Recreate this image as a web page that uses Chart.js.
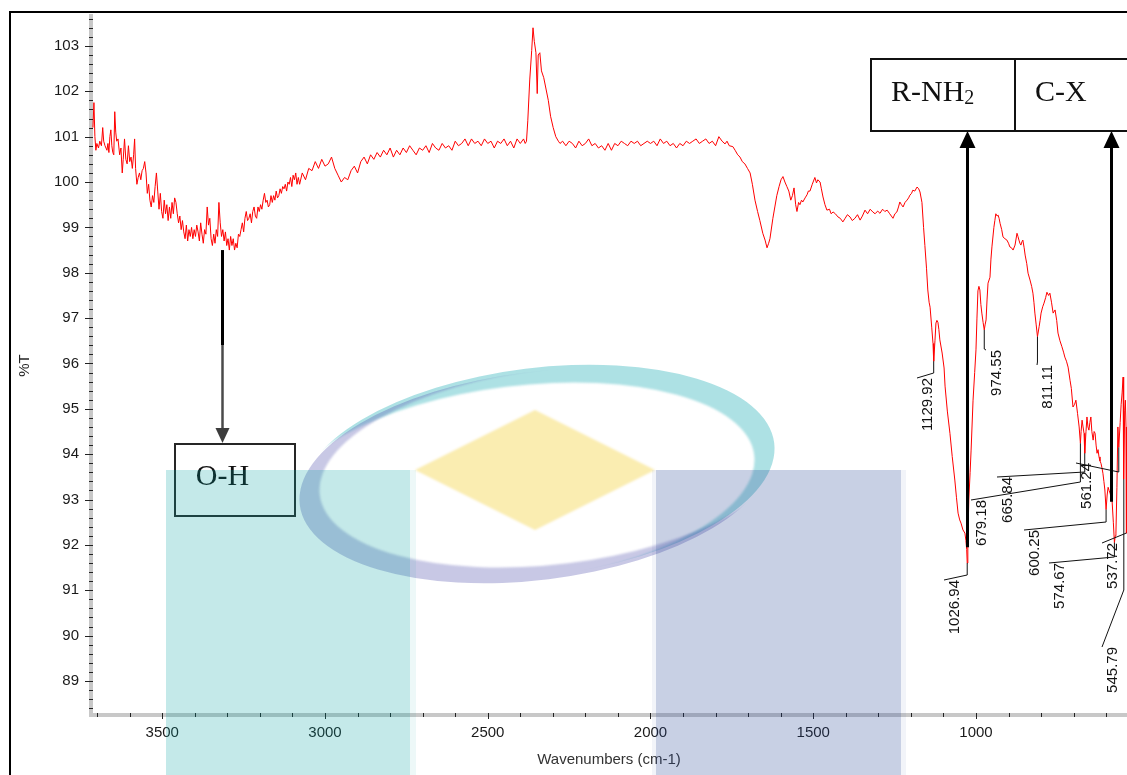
<!DOCTYPE html>
<html>
<head>
<meta charset="utf-8">
<title>FTIR spectrum</title>
<script src="https://cdn.jsdelivr.net/npm/chart.js@4.4.1/dist/chart.umd.min.js"></script>
<style>
  html, body { margin: 0; padding: 0; background: #fff; overflow: hidden; }
  #wrap { position: relative; width: 1127px; height: 775px; }
</style>
</head>
<body>
<div id="wrap"><canvas id="ftirChart" width="1127" height="775"></canvas></div>
<script>
// spectrum, wavenumber (cm-1) -> %T
const wavenumbers = [
  3713, 3710, 3707, 3704, 3701, 3696, 3692, 3687, 3683, 3680,
  3676, 3670, 3667, 3664, 3661, 3658, 3655, 3652, 3649, 3646,
  3643, 3640, 3636, 3631, 3627, 3623, 3620, 3616, 3612, 3608,
  3604, 3600, 3596, 3592, 3588, 3585, 3582, 3578, 3574, 3570,
  3566, 3562, 3558, 3554, 3550, 3546, 3542, 3538, 3534, 3530,
  3526, 3522, 3518, 3514, 3510, 3506, 3502, 3498, 3494, 3490,
  3486, 3482, 3478, 3474, 3470, 3466, 3462, 3458, 3454, 3450,
  3446, 3442, 3438, 3434, 3430, 3426, 3422, 3418, 3414, 3410,
  3406, 3402, 3398, 3394, 3390, 3386, 3382, 3378, 3374, 3370,
  3366, 3362, 3358, 3354, 3350, 3346, 3342, 3338, 3334, 3330,
  3326, 3322, 3318, 3314, 3310, 3306, 3302, 3298, 3294, 3290,
  3286, 3282, 3278, 3274, 3270, 3266, 3262, 3258, 3254, 3250,
  3246, 3242, 3238, 3234, 3230, 3226, 3222, 3218, 3214, 3210,
  3206, 3202, 3198, 3194, 3190, 3186, 3182, 3178, 3174, 3170,
  3166, 3162, 3158, 3154, 3150, 3146, 3142, 3138, 3134, 3130,
  3126, 3122, 3118, 3114, 3110, 3106, 3102, 3098, 3094, 3090,
  3086, 3082, 3078,
  3070, 3060, 3050, 3040, 3030, 3020, 3010, 3000, 2990, 2980,
  2970, 2960, 2950, 2940, 2930, 2920, 2910, 2900, 2890, 2880,
  2870, 2860, 2850, 2840, 2830, 2820, 2810, 2800, 2790, 2780,
  2770, 2760, 2750, 2740, 2730, 2720, 2710, 2700, 2690, 2680,
  2670, 2660, 2650, 2640, 2630, 2620, 2610, 2600, 2590, 2580,
  2570, 2560, 2550, 2540, 2530, 2520, 2510, 2500, 2490, 2480,
  2470, 2460, 2450, 2440, 2430, 2420, 2410, 2400, 2390,
  2385, 2381, 2377, 2371, 2365, 2361, 2357, 2352, 2348, 2345,
  2340, 2335, 2328, 2321, 2314, 2307, 2299, 2291, 2283, 2278,
  2270, 2260, 2250, 2240, 2230, 2220, 2210, 2200, 2190, 2180,
  2170, 2160, 2150, 2140, 2130, 2120, 2110, 2100, 2090, 2080,
  2070, 2060, 2050, 2040, 2030, 2020, 2010, 2000, 1990, 1980,
  1970, 1960, 1950, 1940, 1930, 1920, 1910, 1900, 1890, 1880,
  1870, 1860, 1850, 1840, 1830, 1820, 1810, 1800, 1790, 1780,
  1771, 1765, 1758, 1747, 1740, 1732, 1725, 1718, 1710, 1702,
  1694, 1687, 1679, 1671, 1664, 1655, 1648, 1642, 1637, 1633,
  1624, 1618, 1612, 1605, 1599, 1593, 1587, 1581, 1575, 1569,
  1564, 1559, 1554, 1550, 1545, 1541, 1536, 1532, 1525, 1519,
  1515, 1510, 1503, 1495, 1490, 1486, 1479, 1475, 1470, 1464,
  1458, 1450, 1445, 1439, 1432, 1424, 1417, 1409, 1402, 1395,
  1387, 1380, 1372, 1364, 1356, 1349, 1341, 1333, 1325, 1317,
  1310, 1302, 1295, 1287, 1280, 1273, 1265, 1260, 1255, 1249,
  1243, 1238, 1234, 1229, 1224, 1218, 1212, 1207, 1203, 1198,
  1194, 1188, 1181, 1176, 1172, 1166, 1161, 1157, 1152, 1148,
  1144, 1141, 1136, 1132, 1129.92, 1126, 1123, 1120, 1117, 1114,
  1111, 1104, 1098, 1095, 1088, 1080, 1073, 1065, 1060, 1055,
  1050, 1046, 1040, 1034, 1031, 1028.5, 1026.94, 1025, 1022, 1018,
  1015, 1009, 1004, 1000, 997, 994, 991, 988, 985, 982,
  978, 974.55, 972, 969, 966, 963, 957, 954, 951, 945,
  942, 939, 935, 932, 929, 926, 921, 917, 911, 905,
  900, 896, 891, 886, 880, 874, 871, 868, 865, 862,
  859, 856, 852, 849, 844, 840, 834, 829, 825, 822,
  819, 815, 811.11, 806, 803, 800, 795, 791, 786, 782,
  777, 773, 768, 763, 757, 752, 748, 742, 736, 731,
  727, 722, 717, 711, 707, 702, 697, 693, 688, 683,
  679.18, 677, 674, 671, 668, 665.84, 662, 659, 656, 653,
  650, 647, 644, 640, 637, 634, 631, 628, 625, 622,
  619, 616, 613, 610, 607, 604, 600.25, 597, 594, 591,
  588, 585, 582, 578, 574.67, 572, 570, 567, 564, 561.24,
  557, 554, 551, 548, 546.8, 545.79, 543, 541, 539, 537.72,
  536
];

const transmittance = [
  101.2, 101.75, 101.0, 100.7, 100.85, 100.75, 100.9, 100.8, 101.2, 100.9,
  100.8, 100.7, 100.85, 100.65, 101.0, 101.15, 100.8, 100.65, 100.6, 101.55,
  101.1, 100.9, 100.95, 100.6, 100.75, 100.2, 100.5, 100.95, 100.5, 100.4,
  100.8, 100.45, 100.55, 100.3, 100.6, 100.95, 100.3, 99.95, 100.1, 100.2,
  100.05, 100.25, 100.3, 100.45, 100.2, 99.75, 99.95, 99.6, 99.45, 99.7,
  99.55, 99.9, 100.2, 99.8, 99.4, 99.75, 99.35, 99.2, 99.6, 99.3,
  99.5, 99.15, 99.45, 99.2, 99.55, 99.3, 99.65, 99.55, 99.3, 99.1,
  99.25, 98.95, 99.15, 98.9, 98.75, 99.05, 98.7, 98.95, 98.8, 99.0,
  98.75, 98.95, 98.8, 99.05, 98.9, 98.7, 99.1, 98.85, 98.65, 98.95,
  98.85, 99.45, 99.05, 99.2, 98.75, 98.6, 98.85, 98.65, 98.95, 98.8,
  99.55, 99.1, 98.8, 98.95, 98.7, 98.9, 98.6, 98.75, 98.5, 98.8,
  98.6, 98.75, 98.5, 98.65, 98.55, 98.85, 98.8, 98.95, 99.1, 98.9,
  99.2, 99.35, 99.15, 99.2, 99.3, 99.1, 99.35, 99.45, 99.25, 99.2,
  99.45, 99.35, 99.5, 99.4, 99.6, 99.75, 99.55, 99.6, 99.45, 99.5,
  99.7, 99.55, 99.7, 99.6, 99.8, 99.65, 99.7, 99.85, 99.75, 99.9,
  99.85, 99.95, 99.8, 100.0, 99.95, 100.1, 99.9, 100.15, 100.05, 100.2,
  99.95, 100.1, 99.95,
  100.2, 100.05, 100.3, 100.25, 100.45, 100.3, 100.5, 100.35, 100.4, 100.55,
  100.3, 100.15, 100.0, 100.1, 100.05, 100.25, 100.35, 100.2, 100.45, 100.55,
  100.4, 100.6, 100.5, 100.65, 100.55, 100.7, 100.6, 100.75, 100.55, 100.7,
  100.6, 100.75, 100.65, 100.8, 100.7, 100.6, 100.75, 100.7, 100.8, 100.65,
  100.85, 100.75, 100.7, 100.85, 100.75, 100.8, 100.7, 100.9, 100.8, 100.85,
  100.95, 100.8, 100.95, 100.85, 100.9, 100.8, 100.95, 100.85, 100.9, 100.75,
  100.9, 100.85, 100.95, 100.8, 100.9, 100.75, 100.95, 100.85, 100.95,
  100.85, 100.9, 101.35, 102.25, 102.9, 103.4, 103.1, 102.85, 101.95, 102.8,
  102.85, 102.45, 102.3, 102.05, 101.8, 101.45, 101.2, 101.0, 100.9, 100.85,
  100.9, 100.8, 100.9, 100.85, 100.75, 100.9, 100.8, 100.85, 100.95, 100.8,
  100.85, 100.75, 100.8, 100.7, 100.85, 100.7, 100.85, 100.8, 100.9, 100.85,
  100.8, 100.9, 100.85, 100.9, 100.8, 100.85, 100.9, 100.85, 100.9, 100.8,
  100.95, 100.85, 100.9, 100.8, 100.85, 100.75, 100.85, 100.8, 100.9, 100.85,
  100.9, 100.95, 100.85, 100.9, 100.95, 100.85, 100.9, 100.8, 101.0, 100.9,
  100.84, 100.9, 100.8, 100.78, 100.7, 100.6, 100.55, 100.45, 100.4, 100.3,
  100.2, 99.95, 99.6, 99.35, 99.15, 98.87, 98.72, 98.55, 98.65, 98.75,
  99.2, 99.45, 99.7, 99.9, 100.05, 100.12, 100.0, 99.9, 99.8, 99.6,
  99.7, 99.87, 99.5, 99.35, 99.55, 99.5, 99.6, 99.56, 99.65, 99.72,
  99.8, 99.8, 99.95, 100.1, 99.98, 100.05, 100.0, 99.85, 99.67, 99.5,
  99.38, 99.4, 99.3, 99.34, 99.3, 99.23, 99.2, 99.12, 99.2, 99.28,
  99.23, 99.15, 99.2, 99.28, 99.16, 99.25, 99.38, 99.3, 99.4, 99.34,
  99.3, 99.36, 99.31, 99.4, 99.35, 99.38, 99.3, 99.25, 99.2, 99.3,
  99.34, 99.45, 99.56, 99.5, 99.45, 99.55, 99.6, 99.65, 99.71, 99.75,
  99.82, 99.8, 99.89, 99.85, 99.78, 99.55, 99.0, 98.6, 98.1, 97.62,
  97.35, 97.24, 96.8, 96.44, 96.05, 96.5, 96.89, 96.95, 96.91, 96.75,
  96.52, 96.23, 95.9, 95.5, 94.95, 94.46, 93.95, 93.43, 93.05, 92.7,
  92.55, 92.48, 92.33, 92.26, 92.1, 91.9, 91.6, 92.1, 92.99, 93.6,
  94.09, 95.19, 95.8, 96.3, 97.0, 97.6, 97.7, 97.62, 97.3, 97.11,
  96.9, 96.74, 96.85, 96.96, 97.4, 97.77, 97.9, 98.3, 98.57, 99.0,
  99.15, 99.3, 99.25, 99.27, 99.2, 99.09, 98.95, 98.79, 98.75, 98.72,
  98.65, 98.57, 98.55, 98.5, 98.61, 98.87, 98.8, 98.72, 98.65, 98.61,
  98.68, 98.72, 98.55, 98.39, 98.2, 97.99, 97.84, 97.7, 97.55, 97.35,
  97.11, 96.85, 96.59, 96.81, 96.95, 97.11, 97.25, 97.33, 97.45, 97.57,
  97.5, 97.55, 97.35, 97.11, 97.18, 96.95, 96.67, 96.5, 96.37, 96.25,
  96.14, 96.05, 95.92, 95.63, 95.45, 95.04, 95.1, 95.19, 94.9, 94.6,
  94.24, 94.5, 94.75, 94.6, 94.46, 94.02, 94.5, 94.82, 94.6, 94.53,
  94.7, 94.82, 94.5, 94.31, 94.5, 94.46, 94.2, 94.02, 94.1, 93.94,
  93.85, 93.8, 93.7, 93.58, 93.4, 93.21, 92.78, 93.1, 93.27, 93.2,
  93.14, 93.05, 92.99, 92.5, 92.05, 92.2, 92.26, 93.27, 94.6, 94.15,
  94.7, 95.1, 95.35, 95.7, 94.5, 93.45, 94.97, 95.19, 94.6, 92.26,
  93.0
];

// axis tick labels
const xTickValues = [1000, 1500, 2000, 2500, 3000, 3500];
const yTickValues = [89, 90, 91, 92, 93, 94, 95, 96, 97, 98, 99, 100, 101, 102, 103];

// labelled peaks (cm-1)
const peakWavenumbers = [1129.92, 1026.94, 974.55, 811.11, 679.18, 665.84, 561.24, 600.25, 574.67, 537.72, 545.79];

// functional group bands and where their arrows point (cm-1, %T at arrow start)
const bandNames = ['O-H', 'R-NH', 'C-X'];
const bandWavenumbers = [3315, 1027, 585];
const bandArrowFrom = [98.5, 91.95, 92.95];

// placement of the rotated peak labels: knee of the leader (px y), top-centre of the text (px)
const peakLabelLayout = [
  { knee: 373, text: [928, 378] },
  { knee: 575, text: [955, 580] },
  { knee: 349, text: [997, 350] },
  { knee: 362, text: [1048, 365] },
  { knee: 482, text: [982, 500] },
  { knee: 472, text: [1008, 477] },
  { knee: 472, text: [1087, 463] },
  { knee: 522, text: [1035, 530] },
  { knee: 557, text: [1060, 563] },
  { knee: 533, text: [1113, 543] },
  { knee: 590, text: [1113, 647] }
];

const SANS = '"Liberation Sans", Arial, Helvetica, sans-serif';
const SERIF = '"Liberation Serif", "Times New Roman", serif';

const points = [];
for (let i = 0; i < Math.min(wavenumbers.length, transmittance.length); i++) {
  points.push({ x: wavenumbers[i], y: transmittance[i] });
}

function valueAt(w) {
  return transmittance[wavenumbers.indexOf(w)];
}

// black frame around the figure
const framePlugin = {
  id: 'frame',
  beforeDraw(chart) {
    const ctx = chart.ctx;
    ctx.save();
    ctx.fillStyle = '#fff';
    ctx.fillRect(0, 0, chart.width, chart.height);
    ctx.strokeStyle = '#000';
    ctx.lineWidth = 2;
    ctx.beginPath();
    ctx.moveTo(10, chart.height);
    ctx.lineTo(10, 12);
    ctx.lineTo(chart.width, 12);
    ctx.stroke();
    ctx.restore();
  }
};

// major and minor tick marks across the grey axis bands
const tickPlugin = {
  id: 'tickMarks',
  afterDatasetsDraw(chart) {
    const { ctx, chartArea, scales: { x, y } } = chart;
    ctx.save();
    ctx.strokeStyle = '#222';
    ctx.lineWidth = 1;
    ctx.beginPath();
    for (let k = Math.ceil(y.min * 5); k <= Math.floor(y.max * 5); k++) {
      const py = Math.round(y.getPixelForValue(k / 5)) + 0.5;
      const major = k % 5 === 0;
      ctx.moveTo(chartArea.left - (major ? 6 : 2), py);
      ctx.lineTo(chartArea.left + 2, py);
    }
    for (let k = Math.ceil(x.min / 100); k <= Math.floor(x.max / 100); k++) {
      const px = Math.round(x.getPixelForValue(k * 100)) + 0.5;
      const major = k % 5 === 0;
      ctx.moveTo(px, chartArea.bottom - 2);
      ctx.lineTo(px, chartArea.bottom + (major ? 4 : 2));
    }
    ctx.stroke();
    ctx.restore();
  }
};

function arrowHead(ctx, x, tipY, dir, half, len) {
  ctx.beginPath();
  ctx.moveTo(x, tipY);
  ctx.lineTo(x - half, tipY - dir * len);
  ctx.lineTo(x + half, tipY - dir * len);
  ctx.closePath();
  ctx.fill();
}

// peak labels, band boxes and arrows
const annotationPlugin = {
  id: 'annotations',
  afterDatasetsDraw(chart) {
    const { ctx, scales: { x, y } } = chart;
    ctx.save();

    // peak leaders and rotated labels
    ctx.strokeStyle = '#111';
    ctx.fillStyle = '#111';
    ctx.lineWidth = 1;
    ctx.font = '15px ' + SANS;
    peakWavenumbers.forEach((w, i) => {
      const lay = peakLabelLayout[i];
      const px = x.getPixelForValue(w);
      const py = y.getPixelForValue(valueAt(w));
      ctx.beginPath();
      ctx.moveTo(px, py);
      ctx.lineTo(px, lay.knee);
      ctx.lineTo(lay.text[0] - 11, lay.text[1]);
      ctx.stroke();
      ctx.save();
      ctx.translate(lay.text[0], lay.text[1]);
      ctx.rotate(-Math.PI / 2);
      ctx.textAlign = 'right';
      ctx.textBaseline = 'middle';
      ctx.fillText(w.toFixed(2), 0, 0);
      ctx.restore();
    });

    // O-H: arrow down to its box
    const ohX = Math.round(x.getPixelForValue(bandWavenumbers[0])) + 0.5;
    const ohTop = y.getPixelForValue(bandArrowFrom[0]);
    ctx.strokeStyle = '#000';
    ctx.lineWidth = 3;
    ctx.beginPath();
    ctx.moveTo(ohX, ohTop);
    ctx.lineTo(ohX, 345);
    ctx.stroke();
    ctx.strokeStyle = '#4a4a4a';
    ctx.lineWidth = 2.5;
    ctx.beginPath();
    ctx.moveTo(ohX, 345);
    ctx.lineTo(ohX, 430);
    ctx.stroke();
    ctx.fillStyle = '#3c3c3c';
    arrowHead(ctx, ohX, 443, 1, 7, 15);

    ctx.strokeStyle = '#262626';
    ctx.lineWidth = 2;
    ctx.strokeRect(175, 444, 120, 72);
    ctx.fillStyle = '#111';
    ctx.font = '30px ' + SERIF;
    ctx.textAlign = 'center';
    ctx.textBaseline = 'alphabetic';
    ctx.fillText(bandNames[0], ohX, 485);

    // R-NH2 and C-X: arrows up into the shared box
    ctx.strokeStyle = '#000';
    ctx.fillStyle = '#000';
    ctx.lineWidth = 3;
    [1, 2].forEach(i => {
      const bx = Math.round(x.getPixelForValue(bandWavenumbers[i])) + 0.5;
      const by = y.getPixelForValue(bandArrowFrom[i]);
      ctx.beginPath();
      ctx.moveTo(bx, by);
      ctx.lineTo(bx, 146);
      ctx.stroke();
      arrowHead(ctx, bx, 131, -1, 8, 17);
    });

    ctx.lineWidth = 2;
    ctx.strokeStyle = '#111';
    ctx.strokeRect(871, 59, 300, 72);
    ctx.beginPath();
    ctx.moveTo(1015, 59);
    ctx.lineTo(1015, 131);
    ctx.stroke();

    ctx.fillStyle = '#111';
    ctx.textAlign = 'left';
    ctx.font = '30px ' + SERIF;
    ctx.fillText(bandNames[1], 891, 101);
    const nhWidth = ctx.measureText(bandNames[1]).width;
    ctx.font = '20px ' + SERIF;
    ctx.fillText('2', 891 + nhWidth, 104);
    ctx.font = '30px ' + SERIF;
    ctx.fillText(bandNames[2], 1035, 101);

    ctx.restore();
  }
};

function crescent(ctx, outer, inner, color) {
  const rot = -7 * Math.PI / 180;
  ctx.save();
  ctx.beginPath();
  ctx.ellipse(outer[0], outer[1], outer[2], outer[3], rot, 0, Math.PI * 2);
  ctx.clip();
  ctx.beginPath();
  ctx.rect(0, 0, ctx.canvas.width, ctx.canvas.height);
  ctx.ellipse(inner[0], inner[1], inner[2], inner[3], rot, 0, Math.PI * 2);
  ctx.fillStyle = color;
  ctx.fill('evenodd');
  ctx.restore();
}

// translucent logo watermark laid over the plot
const watermarkPlugin = {
  id: 'watermark',
  afterDraw(chart) {
    const ctx = chart.ctx;
    const h = chart.height;
    ctx.save();
    ctx.filter = 'blur(1px)';
    crescent(ctx, [538, 472, 238, 104], [518, 484, 238, 98], 'rgba(40,175,185,0.38)');
    crescent(ctx, [536, 476, 238, 104], [556, 466, 238, 98], 'rgba(95,95,180,0.34)');
    ctx.fillStyle = 'rgba(240,205,40,0.36)';
    ctx.beginPath();
    ctx.moveTo(535, 410);
    ctx.lineTo(655, 470);
    ctx.lineTo(535, 530);
    ctx.lineTo(415, 470);
    ctx.closePath();
    ctx.fill();
    ctx.filter = 'none';

    ctx.fillStyle = 'rgba(0,160,160,0.23)';
    ctx.fillRect(166, 470, 244, h - 470);
    ctx.fillStyle = 'rgba(0,160,160,0.07)';
    ctx.fillRect(410, 470, 6, h - 470);

    ctx.fillStyle = 'rgba(40,70,150,0.255)';
    ctx.fillRect(656, 470, 245, h - 470);
    ctx.fillStyle = 'rgba(40,70,150,0.06)';
    ctx.fillRect(652, 470, 4, h - 470);
    ctx.fillRect(901, 470, 5, h - 470);
    ctx.restore();
  }
};

const ctx = document.getElementById('ftirChart').getContext('2d');
const ftirChart = new Chart(ctx, {
  type: 'scatter',
  data: {
    datasets: [{
      data: points,
      showLine: true,
      borderColor: '#ff0000',
      borderWidth: 1,
      pointRadius: 0,
      tension: 0
    }]
  },
  options: {
    responsive: false,
    animation: false,
    devicePixelRatio: 1,
    layout: { padding: { left: 10, top: 16, right: 0, bottom: 0 } },
    plugins: {
      legend: { display: false },
      tooltip: { enabled: false }
    },
    scales: {
      x: {
        type: 'linear',
        reverse: true,
        min: 536,
        max: 3719,
        afterBuildTicks: scale => { scale.ticks = xTickValues.map(v => ({ value: v })); },
        ticks: {
          autoSkip: false,
          maxRotation: 0,
          padding: 9,
          color: '#1a1a1a',
          font: { family: SANS, size: 15 },
          callback: v => String(v)
        },
        grid: { drawOnChartArea: false, drawTicks: false },
        border: { color: '#c8c8c8', width: 4 },
        title: {
          display: true,
          text: 'Wavenumbers (cm-1)',
          color: '#333',
          font: { family: SANS, size: 15 },
          padding: { top: 0, bottom: 6 }
        },
        afterFit: scale => { scale.height = 60; }
      },
      y: {
        min: 88.25,
        max: 103.66,
        afterBuildTicks: scale => { scale.ticks = yTickValues.map(v => ({ value: v })); },
        ticks: {
          autoSkip: false,
          padding: 6,
          color: '#1a1a1a',
          font: { family: SANS, size: 15 },
          callback: v => String(v)
        },
        grid: { drawOnChartArea: false, drawTicks: true, tickLength: 6, tickColor: 'rgba(0,0,0,0)' },
        border: { color: '#c8c8c8', width: 4 },
        title: {
          display: true,
          text: '%T',
          color: '#222',
          font: { family: SANS, size: 15 },
          padding: { top: 6, bottom: 0 }
        },
        afterFit: scale => { scale.width = 81; }
      }
    }
  },
  plugins: [framePlugin, tickPlugin, annotationPlugin, watermarkPlugin]
});
</script>
</body>
</html>
